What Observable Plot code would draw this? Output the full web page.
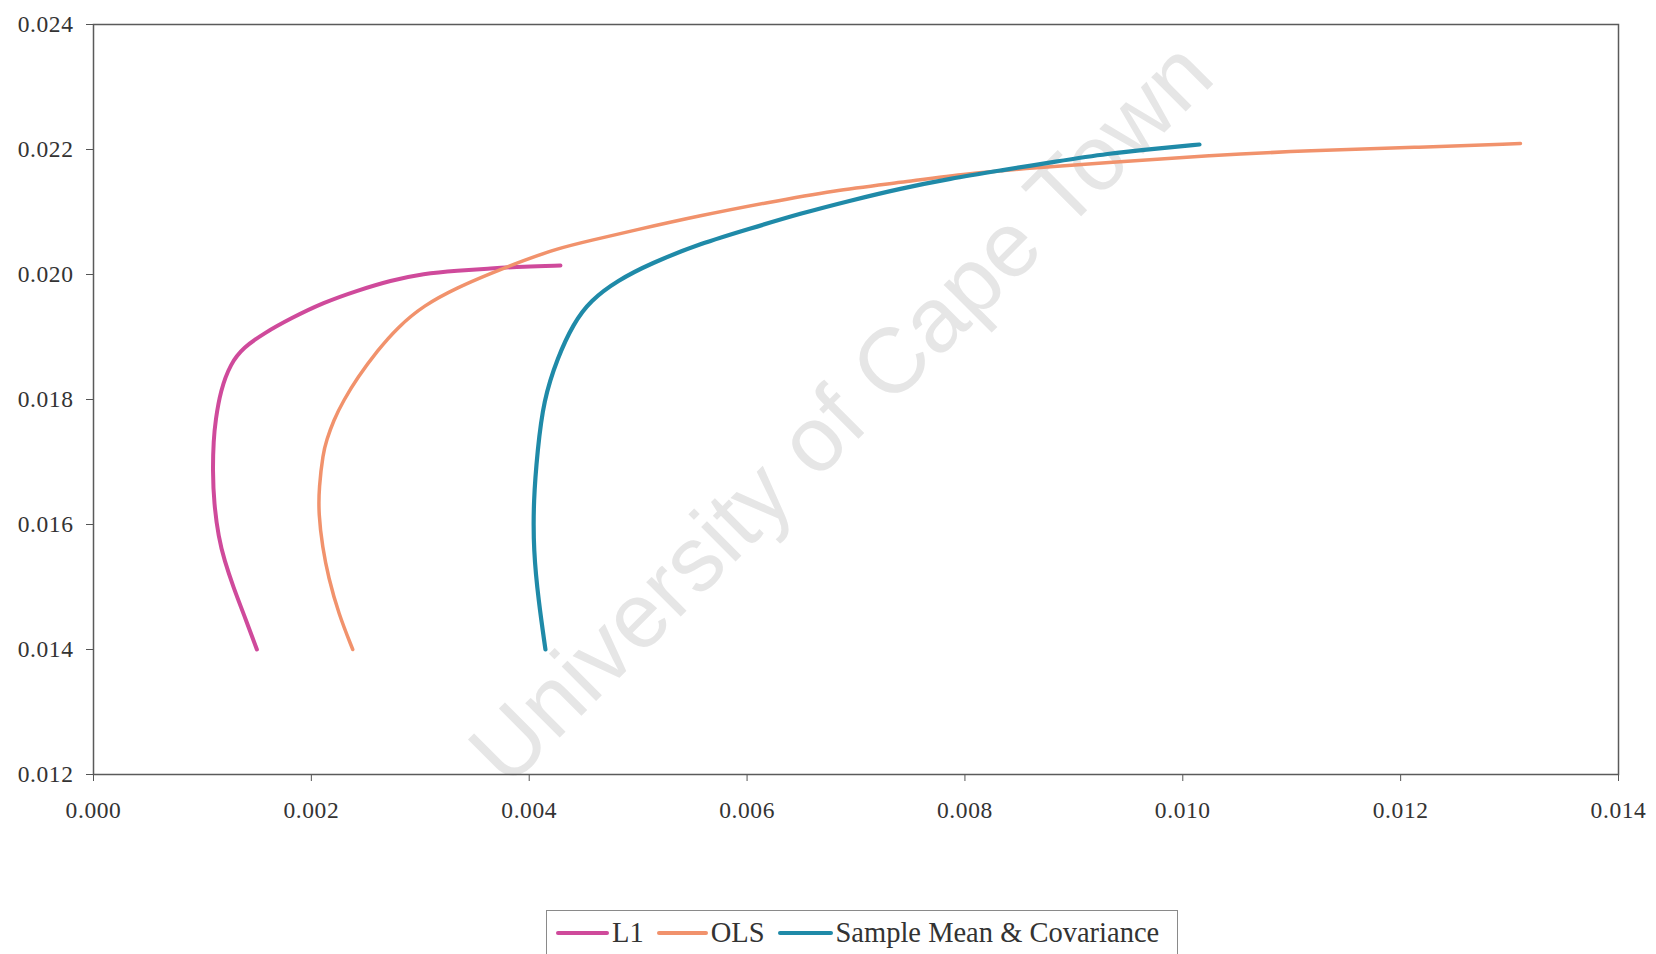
<!DOCTYPE html>
<html>
<head>
<meta charset="utf-8">
<script src="https://cdn.jsdelivr.net/npm/d3@7"></script>
<script src="https://cdn.jsdelivr.net/npm/@observablehq/plot@0.6"></script>
<style>
  body { margin: 0; background: #fff; }
  #chart { position: relative; width: 1656px; height: 954px; overflow: hidden; }
  #chart svg text { letter-spacing: 0.6px; }
  .legend {
    position: absolute; left: 546px; top: 910px; width: 632px; height: 44px;
    box-sizing: border-box; border: 1.5px solid #8a8a8a; border-bottom: none;
    display: flex; align-items: center; padding-left: 9px; gap: 13px;
    font-family: "Liberation Serif", "Times New Roman", serif; font-size: 28.5px; color: #333;
  }
  .legend .item { display: flex; align-items: center; gap: 3px; }
  .legend .swatch { display: inline-block; height: 4px; border-radius: 2px; }
</style>
</head>
<body>
<div id="chart"></div>
<script>
// Efficient frontiers: portfolio risk (x) against expected return (y)
const xTicks = [0, 0.002, 0.004, 0.006, 0.008, 0.010, 0.012, 0.014];
const yTicks = [0.012, 0.014, 0.016, 0.018, 0.020, 0.022, 0.024];

const seriesNames = ["L1", "OLS", "Sample Mean & Covariance"];
const seriesColors = ["#cf4a9b", "#f1926c", "#1f8aa8"];

// L1 frontier
const l1Risk = [0.00150, 0.001377, 0.001285, 0.001202, 0.001148, 0.001106, 0.001094, 0.001102, 0.00112, 0.001166,
  0.001258, 0.001377, 0.001561, 0.001808, 0.002111, 0.002424, 0.002726, 0.003029, 0.003342, 0.003644, 0.003947, 0.004287];
const l1Return = [0.01400, 0.014576, 0.014992, 0.015424, 0.015792, 0.016336, 0.016864, 0.017344, 0.017664, 0.018144,
  0.018576, 0.018832, 0.019056, 0.019296, 0.019552, 0.019744, 0.019904, 0.020016, 0.020064, 0.020096, 0.020128, 0.020144];

// OLS frontier
const olsRisk = [0.00238, 0.002249, 0.002157, 0.002102, 0.002066, 0.00207, 0.002107, 0.002139, 0.002203, 0.002295,
  0.002424, 0.002607, 0.002791, 0.003029, 0.003342, 0.003645, 0.003947, 0.00426, 0.004563, 0.004957, 0.005572,
  0.006188, 0.006793, 0.007408, 0.008024, 0.008657, 0.009309, 0.010245, 0.011181, 0.012118, 0.0131];
const olsReturn = [0.01400, 0.014576, 0.015152, 0.015632, 0.016176, 0.016592, 0.017136, 0.017344, 0.017664, 0.017984,
  0.018352, 0.018784, 0.019152, 0.019504, 0.019792, 0.020016, 0.020224, 0.020416, 0.020544, 0.020704, 0.020944,
  0.021152, 0.021344, 0.021472, 0.021616, 0.021712, 0.021792, 0.021904, 0.021984, 0.022032, 0.022096];

// Sample mean & covariance frontier
const sampleRisk = [0.004149, 0.004085, 0.004039, 0.004039, 0.004076, 0.004131, 0.00426, 0.004406, 0.004562, 0.00481,
  0.005113, 0.005572, 0.006031, 0.00649, 0.006949, 0.007408, 0.007867, 0.008326, 0.00884, 0.009309, 0.009777, 0.010153];
const sampleReturn = [0.01400, 0.014784, 0.015584, 0.016384, 0.017184, 0.017984, 0.018672, 0.019216, 0.019584, 0.019904,
  0.020176, 0.020496, 0.020736, 0.020976, 0.021184, 0.021376, 0.021536, 0.021664, 0.021808, 0.021936, 0.022016, 0.02208];

const watermark = "University of Cape Town";

const series = [
  { name: seriesNames[0], color: seriesColors[0], width: 4, risk: l1Risk, ret: l1Return },
  { name: seriesNames[1], color: seriesColors[1], width: 3.5, risk: olsRisk, ret: olsReturn },
  { name: seriesNames[2], color: seriesColors[2], width: 4.2, risk: sampleRisk, ret: sampleReturn }
];
const toPoints = s => s.risk.map((r, i) => ({ risk: r, ret: s.ret[i] }));
const fmt = d3.format(".3f");

const plot = Plot.plot({
  width: 1656,
  height: 840,
  marginLeft: 93,
  marginRight: 38,
  marginTop: 24,
  marginBottom: 66,
  style: { fontFamily: "'Liberation Serif', 'Times New Roman', serif", fontSize: "23.5px", color: "#333", background: "white" },
  x: { domain: [0, 0.014] },
  y: { domain: [0.012, 0.024] },
  marks: [
    Plot.text([watermark], {
      text: d => d, frameAnchor: "middle", dx: -14, dy: 14, rotate: -45,
      fontSize: 92, fontFamily: "'Liberation Sans', Arial, sans-serif", fill: "#e6e6e6"
    }),
    Plot.axisX({ ticks: xTicks, tickFormat: fmt, tickSize: 7, tickPadding: 20, stroke: "#555", label: null }),
    Plot.axisY({ ticks: yTicks, tickFormat: fmt, tickSize: 7, tickPadding: 13, stroke: "#555", label: null }),
    Plot.frame({ stroke: "#5a5a5a", strokeWidth: 1.5 }),
    ...series.map(s => Plot.line(toPoints(s), {
      x: "risk", y: "ret", stroke: s.color, strokeWidth: s.width,
      curve: "basis", strokeLinecap: "round", strokeLinejoin: "round"
    }))
  ]
});

const chart = document.getElementById("chart");
chart.appendChild(plot);

// Legend box below the plot
const legend = document.createElement("div");
legend.className = "legend";
const swatchWidths = [53, 51, 55];
series.forEach((s, i) => {
  const item = document.createElement("div");
  item.className = "item";
  const sw = document.createElement("span");
  sw.className = "swatch";
  sw.style.width = swatchWidths[i] + "px";
  sw.style.background = s.color;
  const label = document.createElement("span");
  label.textContent = s.name;
  item.appendChild(sw);
  item.appendChild(label);
  legend.appendChild(item);
});
chart.appendChild(legend);
</script>
</body>
</html>
